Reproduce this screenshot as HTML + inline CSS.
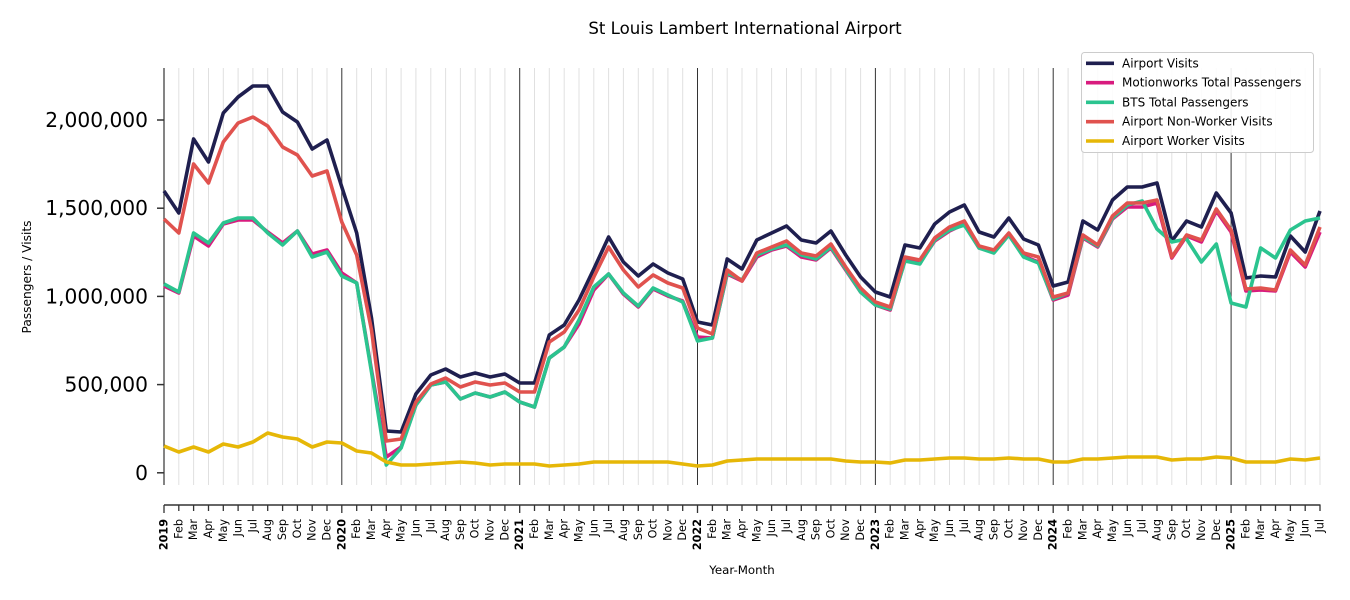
<!DOCTYPE html>
<html>
<head>
<meta charset="utf-8">
<style>
html,body{margin:0;padding:0;background:#fff;}
svg{display:block;font-family:"DejaVu Sans","Liberation Sans",sans-serif;}
</style>
</head>
<body>
<svg width="1350" height="600" viewBox="0 0 1350 600" xmlns="http://www.w3.org/2000/svg">
<rect width="1350" height="600" fill="#fff"/>
<text x="745" y="34" font-size="16.6" text-anchor="middle" fill="#000">St Louis Lambert International Airport</text>

<!-- month gridlines -->
<g stroke="#e0e0e0" stroke-width="1">
<line x1="178.8" y1="68" x2="178.8" y2="485"/><line x1="193.6" y1="68" x2="193.6" y2="485"/><line x1="208.5" y1="68" x2="208.5" y2="485"/><line x1="223.3" y1="68" x2="223.3" y2="485"/><line x1="238.1" y1="68" x2="238.1" y2="485"/><line x1="252.9" y1="68" x2="252.9" y2="485"/><line x1="267.7" y1="68" x2="267.7" y2="485"/><line x1="282.6" y1="68" x2="282.6" y2="485"/><line x1="297.4" y1="68" x2="297.4" y2="485"/><line x1="312.2" y1="68" x2="312.2" y2="485"/><line x1="327" y1="68" x2="327" y2="485"/>
<line x1="356.7" y1="68" x2="356.7" y2="485"/><line x1="371.5" y1="68" x2="371.5" y2="485"/><line x1="386.3" y1="68" x2="386.3" y2="485"/><line x1="401.1" y1="68" x2="401.1" y2="485"/><line x1="415.9" y1="68" x2="415.9" y2="485"/><line x1="430.8" y1="68" x2="430.8" y2="485"/><line x1="445.6" y1="68" x2="445.6" y2="485"/><line x1="460.4" y1="68" x2="460.4" y2="485"/><line x1="475.2" y1="68" x2="475.2" y2="485"/><line x1="490.1" y1="68" x2="490.1" y2="485"/><line x1="504.9" y1="68" x2="504.9" y2="485"/>
<line x1="534.5" y1="68" x2="534.5" y2="485"/><line x1="549.3" y1="68" x2="549.3" y2="485"/><line x1="564.2" y1="68" x2="564.2" y2="485"/><line x1="579" y1="68" x2="579" y2="485"/><line x1="593.8" y1="68" x2="593.8" y2="485"/><line x1="608.6" y1="68" x2="608.6" y2="485"/><line x1="623.4" y1="68" x2="623.4" y2="485"/><line x1="638.3" y1="68" x2="638.3" y2="485"/><line x1="653.1" y1="68" x2="653.1" y2="485"/><line x1="667.9" y1="68" x2="667.9" y2="485"/><line x1="682.7" y1="68" x2="682.7" y2="485"/>
<line x1="712.4" y1="68" x2="712.4" y2="485"/><line x1="727.2" y1="68" x2="727.2" y2="485"/><line x1="742" y1="68" x2="742" y2="485"/><line x1="756.8" y1="68" x2="756.8" y2="485"/><line x1="771.6" y1="68" x2="771.6" y2="485"/><line x1="786.5" y1="68" x2="786.5" y2="485"/><line x1="801.3" y1="68" x2="801.3" y2="485"/><line x1="816.1" y1="68" x2="816.1" y2="485"/><line x1="830.9" y1="68" x2="830.9" y2="485"/><line x1="845.7" y1="68" x2="845.7" y2="485"/><line x1="860.6" y1="68" x2="860.6" y2="485"/>
<line x1="890.2" y1="68" x2="890.2" y2="485"/><line x1="905" y1="68" x2="905" y2="485"/><line x1="919.8" y1="68" x2="919.8" y2="485"/><line x1="934.7" y1="68" x2="934.7" y2="485"/><line x1="949.5" y1="68" x2="949.5" y2="485"/><line x1="964.3" y1="68" x2="964.3" y2="485"/><line x1="979.1" y1="68" x2="979.1" y2="485"/><line x1="993.9" y1="68" x2="993.9" y2="485"/><line x1="1008.8" y1="68" x2="1008.8" y2="485"/><line x1="1023.6" y1="68" x2="1023.6" y2="485"/><line x1="1038.4" y1="68" x2="1038.4" y2="485"/>
<line x1="1068.1" y1="68" x2="1068.1" y2="485"/><line x1="1082.9" y1="68" x2="1082.9" y2="485"/><line x1="1097.7" y1="68" x2="1097.7" y2="485"/><line x1="1112.5" y1="68" x2="1112.5" y2="485"/><line x1="1127.3" y1="68" x2="1127.3" y2="485"/><line x1="1142.2" y1="68" x2="1142.2" y2="485"/><line x1="1157" y1="68" x2="1157" y2="485"/><line x1="1171.8" y1="68" x2="1171.8" y2="485"/><line x1="1186.6" y1="68" x2="1186.6" y2="485"/><line x1="1201.4" y1="68" x2="1201.4" y2="485"/><line x1="1216.3" y1="68" x2="1216.3" y2="485"/>
<line x1="1245.9" y1="68" x2="1245.9" y2="485"/><line x1="1260.7" y1="68" x2="1260.7" y2="485"/><line x1="1275.5" y1="68" x2="1275.5" y2="485"/><line x1="1290.4" y1="68" x2="1290.4" y2="485"/><line x1="1305.2" y1="68" x2="1305.2" y2="485"/><line x1="1320" y1="68" x2="1320" y2="485"/>
</g>
<!-- year gridlines -->
<g stroke="#333" stroke-width="1">
<line x1="341.8" y1="68" x2="341.8" y2="485"/><line x1="519.7" y1="68" x2="519.7" y2="485"/><line x1="697.5" y1="68" x2="697.5" y2="485"/><line x1="875.4" y1="68" x2="875.4" y2="485"/><line x1="1053.2" y1="68" x2="1053.2" y2="485"/><line x1="1231.1" y1="68" x2="1231.1" y2="485"/>
</g>

<!-- left spine & y ticks -->
<line x1="164" y1="68" x2="164" y2="485" stroke="#333" stroke-width="1.2"/>
<g stroke="#333" stroke-width="1.5">
<line x1="157" y1="120" x2="164" y2="120"/><line x1="157" y1="208.2" x2="164" y2="208.2"/><line x1="157" y1="296.4" x2="164" y2="296.4"/><line x1="157" y1="384.6" x2="164" y2="384.6"/><line x1="157" y1="472.8" x2="164" y2="472.8"/>
</g>
<g font-size="20.2" text-anchor="end" fill="#000" dominant-baseline="central">
<text x="148" y="120">2,000,000</text><text x="148" y="208.2">1,500,000</text><text x="148" y="296.4">1,000,000</text><text x="148" y="384.6">500,000</text><text x="148" y="472.8">0</text>
</g>
<text transform="translate(27,277) rotate(-90)" font-size="12.2" text-anchor="middle" dominant-baseline="central" fill="#000">Passengers / Visits</text>

<!-- series -->
<g fill="none" stroke-width="3.6" stroke-linejoin="round">
<polyline stroke="#1f1f4f" points="164,191 178.8,213 193.6,139 208.5,162 223.3,113 238.1,97 252.9,86 267.7,86 282.6,112 297.4,122 312.2,149 327,140 341.8,187 356.7,233 371.5,318 386.3,431 401.1,432 415.9,394 430.8,375 445.6,369 460.4,377 475.2,373 490.1,377 504.9,374 519.7,383 534.5,383 549.3,335 564.2,325 579,300 593.8,269 608.6,237 623.4,262 638.3,276 653.1,264 667.9,273 682.7,279 697.5,322 712.4,325 727.2,259 742,269 756.8,240 771.6,233 786.5,226 801.3,240 816.1,243 830.9,231 845.7,255 860.6,277 875.4,292 890.2,297 905,245 919.8,248 934.7,224 949.5,212 964.3,205 979.1,232 993.9,237 1008.8,218 1023.6,239 1038.4,245 1053.2,286 1068.1,282 1082.9,221 1097.7,230 1112.5,200 1127.3,187 1142.2,187 1157,183 1171.8,241 1186.6,221 1201.4,227 1216.3,193 1231.1,213 1245.9,278 1260.7,276 1275.5,277 1290.4,236 1305.2,252 1320,211"/>
<polyline stroke="#d81b7e" points="164,286 178.8,293 193.6,236 208.5,246 223.3,224 238.1,220 252.9,220 267.7,232 282.6,243 297.4,231 312.2,254 327,250 341.8,273 356.7,283 371.5,370 386.3,457 401.1,447 415.9,405 430.8,385 445.6,382 460.4,399 475.2,393 490.1,397 504.9,392 519.7,402 534.5,407 549.3,358 564.2,347 579,324 593.8,290 608.6,274 623.4,294 638.3,307 653.1,289 667.9,296 682.7,301 697.5,337 712.4,338 727.2,274 742,281 756.8,257 771.6,250 786.5,246 801.3,257 816.1,260 830.9,248 845.7,270 860.6,292 875.4,305 890.2,310 905,260 919.8,263 934.7,241 949.5,231 964.3,224 979.1,248 993.9,252 1008.8,235 1023.6,256 1038.4,262 1053.2,300 1068.1,295 1082.9,238 1097.7,247 1112.5,219 1127.3,207 1142.2,207 1157,203 1171.8,258 1186.6,236 1201.4,242 1216.3,211 1231.1,232 1245.9,291 1260.7,290 1275.5,291 1290.4,252 1305.2,267 1320,232"/>
<polyline stroke="#2bc48f" points="164,284 178.8,292 193.6,233 208.5,243 223.3,223 238.1,218 252.9,218 267.7,233 282.6,245 297.4,231 312.2,257 327,252 341.8,276 356.7,283 371.5,372 386.3,465 401.1,448 415.9,405 430.8,385 445.6,382 460.4,399 475.2,393 490.1,397 504.9,392 519.7,402 534.5,407 549.3,358 564.2,347 579,320 593.8,287 608.6,274 623.4,293 638.3,306 653.1,288 667.9,295 682.7,302 697.5,341 712.4,338 727.2,273 742,280 756.8,255 771.6,249 786.5,245 801.3,255 816.1,259 830.9,247 845.7,269 860.6,292 875.4,305 890.2,309 905,261 919.8,264 934.7,240 949.5,230 964.3,225 979.1,248 993.9,253 1008.8,235 1023.6,257 1038.4,263 1053.2,299 1068.1,293 1082.9,237 1097.7,246 1112.5,218 1127.3,205 1142.2,201 1157,229 1171.8,242 1186.6,239 1201.4,262 1216.3,244 1231.1,303 1245.9,307 1260.7,248 1275.5,258 1290.4,230 1305.2,221 1320,218"/>
<polyline stroke="#e0524e" points="164,219 178.8,233 193.6,164 208.5,183 223.3,142 238.1,123 252.9,117 267.7,126 282.6,147 297.4,155 312.2,176 327,171 341.8,222 356.7,255 371.5,330 386.3,441 401.1,439 415.9,402 430.8,384 445.6,378 460.4,387 475.2,382 490.1,385 504.9,383 519.7,392 534.5,392 549.3,342 564.2,332 579,310 593.8,277 608.6,247 623.4,270 638.3,287 653.1,275 667.9,283 682.7,288 697.5,328 712.4,334 727.2,270 742,281 756.8,253 771.6,247 786.5,241 801.3,253 816.1,256 830.9,244 845.7,267 860.6,288 875.4,302 890.2,307 905,257 919.8,260 934.7,238 949.5,227 964.3,221 979.1,246 993.9,250 1008.8,233 1023.6,253 1038.4,257 1053.2,297 1068.1,293 1082.9,235 1097.7,245 1112.5,216 1127.3,203 1142.2,203 1157,200 1171.8,257 1186.6,235 1201.4,240 1216.3,209 1231.1,230 1245.9,289 1260.7,288 1275.5,290 1290.4,250 1305.2,265 1320,227"/>
<polyline stroke="#e6b707" points="164,446 178.8,452 193.6,447 208.5,452 223.3,444 238.1,447 252.9,442 267.7,433 282.6,437 297.4,439 312.2,447 327,442 341.8,443 356.7,451 371.5,453 386.3,462 401.1,465 415.9,465 430.8,464 445.6,463 460.4,462 475.2,463 490.1,465 504.9,464 519.7,464 534.5,464 549.3,466 564.2,465 579,464 593.8,462 608.6,462 623.4,462 638.3,462 653.1,462 667.9,462 682.7,464 697.5,466 712.4,465 727.2,461 742,460 756.8,459 771.6,459 786.5,459 801.3,459 816.1,459 830.9,459 845.7,461 860.6,462 875.4,462 890.2,463 905,460 919.8,460 934.7,459 949.5,458 964.3,458 979.1,459 993.9,459 1008.8,458 1023.6,459 1038.4,459 1053.2,462 1068.1,462 1082.9,459 1097.7,459 1112.5,458 1127.3,457 1142.2,457 1157,457 1171.8,460 1186.6,459 1201.4,459 1216.3,457 1231.1,458 1245.9,462 1260.7,462 1275.5,462 1290.4,459 1305.2,460 1320,458"/>
</g>

<!-- legend -->
<rect x="1081.5" y="52.5" width="232" height="100" rx="3" fill="#fff" fill-opacity="0.9" stroke="#cccccc" stroke-width="1"/>
<g stroke-width="3.6">
<line x1="1086" y1="63.3" x2="1114" y2="63.3" stroke="#1f1f4f"/>
<line x1="1086" y1="82.7" x2="1114" y2="82.7" stroke="#d81b7e"/>
<line x1="1086" y1="102.3" x2="1114" y2="102.3" stroke="#2bc48f"/>
<line x1="1086" y1="121.7" x2="1114" y2="121.7" stroke="#e0524e"/>
<line x1="1086" y1="141" x2="1114" y2="141" stroke="#e6b707"/>
</g>
<g font-size="12" fill="#000" dominant-baseline="central">
<text x="1122" y="63.3">Airport Visits</text>
<text x="1122" y="82.7">Motionworks Total Passengers</text>
<text x="1122" y="102.3">BTS Total Passengers</text>
<text x="1122" y="121.7">Airport Non-Worker Visits</text>
<text x="1122" y="141">Airport Worker Visits</text>
</g>

<!-- bottom spine & ticks -->
<line x1="164" y1="505" x2="1320.5" y2="505" stroke="#333" stroke-width="1.6"/>
<g stroke="#333" stroke-width="1.3">
<line x1="164" y1="505" x2="164" y2="513"/><line x1="178.8" y1="505" x2="178.8" y2="511"/><line x1="193.6" y1="505" x2="193.6" y2="511"/><line x1="208.5" y1="505" x2="208.5" y2="511"/><line x1="223.3" y1="505" x2="223.3" y2="511"/><line x1="238.1" y1="505" x2="238.1" y2="511"/><line x1="252.9" y1="505" x2="252.9" y2="511"/><line x1="267.7" y1="505" x2="267.7" y2="511"/><line x1="282.6" y1="505" x2="282.6" y2="511"/><line x1="297.4" y1="505" x2="297.4" y2="511"/><line x1="312.2" y1="505" x2="312.2" y2="511"/><line x1="327" y1="505" x2="327" y2="511"/>
<line x1="341.8" y1="505" x2="341.8" y2="513"/><line x1="356.7" y1="505" x2="356.7" y2="511"/><line x1="371.5" y1="505" x2="371.5" y2="511"/><line x1="386.3" y1="505" x2="386.3" y2="511"/><line x1="401.1" y1="505" x2="401.1" y2="511"/><line x1="415.9" y1="505" x2="415.9" y2="511"/><line x1="430.8" y1="505" x2="430.8" y2="511"/><line x1="445.6" y1="505" x2="445.6" y2="511"/><line x1="460.4" y1="505" x2="460.4" y2="511"/><line x1="475.2" y1="505" x2="475.2" y2="511"/><line x1="490.1" y1="505" x2="490.1" y2="511"/><line x1="504.9" y1="505" x2="504.9" y2="511"/>
<line x1="519.7" y1="505" x2="519.7" y2="513"/><line x1="534.5" y1="505" x2="534.5" y2="511"/><line x1="549.3" y1="505" x2="549.3" y2="511"/><line x1="564.2" y1="505" x2="564.2" y2="511"/><line x1="579" y1="505" x2="579" y2="511"/><line x1="593.8" y1="505" x2="593.8" y2="511"/><line x1="608.6" y1="505" x2="608.6" y2="511"/><line x1="623.4" y1="505" x2="623.4" y2="511"/><line x1="638.3" y1="505" x2="638.3" y2="511"/><line x1="653.1" y1="505" x2="653.1" y2="511"/><line x1="667.9" y1="505" x2="667.9" y2="511"/><line x1="682.7" y1="505" x2="682.7" y2="511"/>
<line x1="697.5" y1="505" x2="697.5" y2="513"/><line x1="712.4" y1="505" x2="712.4" y2="511"/><line x1="727.2" y1="505" x2="727.2" y2="511"/><line x1="742" y1="505" x2="742" y2="511"/><line x1="756.8" y1="505" x2="756.8" y2="511"/><line x1="771.6" y1="505" x2="771.6" y2="511"/><line x1="786.5" y1="505" x2="786.5" y2="511"/><line x1="801.3" y1="505" x2="801.3" y2="511"/><line x1="816.1" y1="505" x2="816.1" y2="511"/><line x1="830.9" y1="505" x2="830.9" y2="511"/><line x1="845.7" y1="505" x2="845.7" y2="511"/><line x1="860.6" y1="505" x2="860.6" y2="511"/>
<line x1="875.4" y1="505" x2="875.4" y2="513"/><line x1="890.2" y1="505" x2="890.2" y2="511"/><line x1="905" y1="505" x2="905" y2="511"/><line x1="919.8" y1="505" x2="919.8" y2="511"/><line x1="934.7" y1="505" x2="934.7" y2="511"/><line x1="949.5" y1="505" x2="949.5" y2="511"/><line x1="964.3" y1="505" x2="964.3" y2="511"/><line x1="979.1" y1="505" x2="979.1" y2="511"/><line x1="993.9" y1="505" x2="993.9" y2="511"/><line x1="1008.8" y1="505" x2="1008.8" y2="511"/><line x1="1023.6" y1="505" x2="1023.6" y2="511"/><line x1="1038.4" y1="505" x2="1038.4" y2="511"/>
<line x1="1053.2" y1="505" x2="1053.2" y2="513"/><line x1="1068.1" y1="505" x2="1068.1" y2="511"/><line x1="1082.9" y1="505" x2="1082.9" y2="511"/><line x1="1097.7" y1="505" x2="1097.7" y2="511"/><line x1="1112.5" y1="505" x2="1112.5" y2="511"/><line x1="1127.3" y1="505" x2="1127.3" y2="511"/><line x1="1142.2" y1="505" x2="1142.2" y2="511"/><line x1="1157" y1="505" x2="1157" y2="511"/><line x1="1171.8" y1="505" x2="1171.8" y2="511"/><line x1="1186.6" y1="505" x2="1186.6" y2="511"/><line x1="1201.4" y1="505" x2="1201.4" y2="511"/><line x1="1216.3" y1="505" x2="1216.3" y2="511"/>
<line x1="1231.1" y1="505" x2="1231.1" y2="513"/><line x1="1245.9" y1="505" x2="1245.9" y2="511"/><line x1="1260.7" y1="505" x2="1260.7" y2="511"/><line x1="1275.5" y1="505" x2="1275.5" y2="511"/><line x1="1290.4" y1="505" x2="1290.4" y2="511"/><line x1="1305.2" y1="505" x2="1305.2" y2="511"/><line x1="1320" y1="505" x2="1320" y2="511"/>
</g>

<!-- x tick labels -->
<g font-size="11.2" fill="#000" text-anchor="end" dominant-baseline="central">
<text transform="translate(164,519) rotate(-90)" font-weight="bold">2019</text>
<text transform="translate(178.8,519) rotate(-90)">Feb</text><text transform="translate(193.6,519) rotate(-90)">Mar</text><text transform="translate(208.5,519) rotate(-90)">Apr</text><text transform="translate(223.3,519) rotate(-90)">May</text><text transform="translate(238.1,519) rotate(-90)">Jun</text><text transform="translate(252.9,519) rotate(-90)">Jul</text><text transform="translate(267.7,519) rotate(-90)">Aug</text><text transform="translate(282.6,519) rotate(-90)">Sep</text><text transform="translate(297.4,519) rotate(-90)">Oct</text><text transform="translate(312.2,519) rotate(-90)">Nov</text><text transform="translate(327,519) rotate(-90)">Dec</text>
<text transform="translate(341.8,519) rotate(-90)" font-weight="bold">2020</text>
<text transform="translate(356.7,519) rotate(-90)">Feb</text><text transform="translate(371.5,519) rotate(-90)">Mar</text><text transform="translate(386.3,519) rotate(-90)">Apr</text><text transform="translate(401.1,519) rotate(-90)">May</text><text transform="translate(415.9,519) rotate(-90)">Jun</text><text transform="translate(430.8,519) rotate(-90)">Jul</text><text transform="translate(445.6,519) rotate(-90)">Aug</text><text transform="translate(460.4,519) rotate(-90)">Sep</text><text transform="translate(475.2,519) rotate(-90)">Oct</text><text transform="translate(490.1,519) rotate(-90)">Nov</text><text transform="translate(504.9,519) rotate(-90)">Dec</text>
<text transform="translate(519.7,519) rotate(-90)" font-weight="bold">2021</text>
<text transform="translate(534.5,519) rotate(-90)">Feb</text><text transform="translate(549.3,519) rotate(-90)">Mar</text><text transform="translate(564.2,519) rotate(-90)">Apr</text><text transform="translate(579,519) rotate(-90)">May</text><text transform="translate(593.8,519) rotate(-90)">Jun</text><text transform="translate(608.6,519) rotate(-90)">Jul</text><text transform="translate(623.4,519) rotate(-90)">Aug</text><text transform="translate(638.3,519) rotate(-90)">Sep</text><text transform="translate(653.1,519) rotate(-90)">Oct</text><text transform="translate(667.9,519) rotate(-90)">Nov</text><text transform="translate(682.7,519) rotate(-90)">Dec</text>
<text transform="translate(697.5,519) rotate(-90)" font-weight="bold">2022</text>
<text transform="translate(712.4,519) rotate(-90)">Feb</text><text transform="translate(727.2,519) rotate(-90)">Mar</text><text transform="translate(742,519) rotate(-90)">Apr</text><text transform="translate(756.8,519) rotate(-90)">May</text><text transform="translate(771.6,519) rotate(-90)">Jun</text><text transform="translate(786.5,519) rotate(-90)">Jul</text><text transform="translate(801.3,519) rotate(-90)">Aug</text><text transform="translate(816.1,519) rotate(-90)">Sep</text><text transform="translate(830.9,519) rotate(-90)">Oct</text><text transform="translate(845.7,519) rotate(-90)">Nov</text><text transform="translate(860.6,519) rotate(-90)">Dec</text>
<text transform="translate(875.4,519) rotate(-90)" font-weight="bold">2023</text>
<text transform="translate(890.2,519) rotate(-90)">Feb</text><text transform="translate(905,519) rotate(-90)">Mar</text><text transform="translate(919.8,519) rotate(-90)">Apr</text><text transform="translate(934.7,519) rotate(-90)">May</text><text transform="translate(949.5,519) rotate(-90)">Jun</text><text transform="translate(964.3,519) rotate(-90)">Jul</text><text transform="translate(979.1,519) rotate(-90)">Aug</text><text transform="translate(993.9,519) rotate(-90)">Sep</text><text transform="translate(1008.8,519) rotate(-90)">Oct</text><text transform="translate(1023.6,519) rotate(-90)">Nov</text><text transform="translate(1038.4,519) rotate(-90)">Dec</text>
<text transform="translate(1053.2,519) rotate(-90)" font-weight="bold">2024</text>
<text transform="translate(1068.1,519) rotate(-90)">Feb</text><text transform="translate(1082.9,519) rotate(-90)">Mar</text><text transform="translate(1097.7,519) rotate(-90)">Apr</text><text transform="translate(1112.5,519) rotate(-90)">May</text><text transform="translate(1127.3,519) rotate(-90)">Jun</text><text transform="translate(1142.2,519) rotate(-90)">Jul</text><text transform="translate(1157,519) rotate(-90)">Aug</text><text transform="translate(1171.8,519) rotate(-90)">Sep</text><text transform="translate(1186.6,519) rotate(-90)">Oct</text><text transform="translate(1201.4,519) rotate(-90)">Nov</text><text transform="translate(1216.3,519) rotate(-90)">Dec</text>
<text transform="translate(1231.1,519) rotate(-90)" font-weight="bold">2025</text>
<text transform="translate(1245.9,519) rotate(-90)">Feb</text><text transform="translate(1260.7,519) rotate(-90)">Mar</text><text transform="translate(1275.5,519) rotate(-90)">Apr</text><text transform="translate(1290.4,519) rotate(-90)">May</text><text transform="translate(1305.2,519) rotate(-90)">Jun</text><text transform="translate(1320,519) rotate(-90)">Jul</text>
</g>
<text x="742" y="574" font-size="11.8" text-anchor="middle" fill="#000">Year-Month</text>
</svg>
</body>
</html>
